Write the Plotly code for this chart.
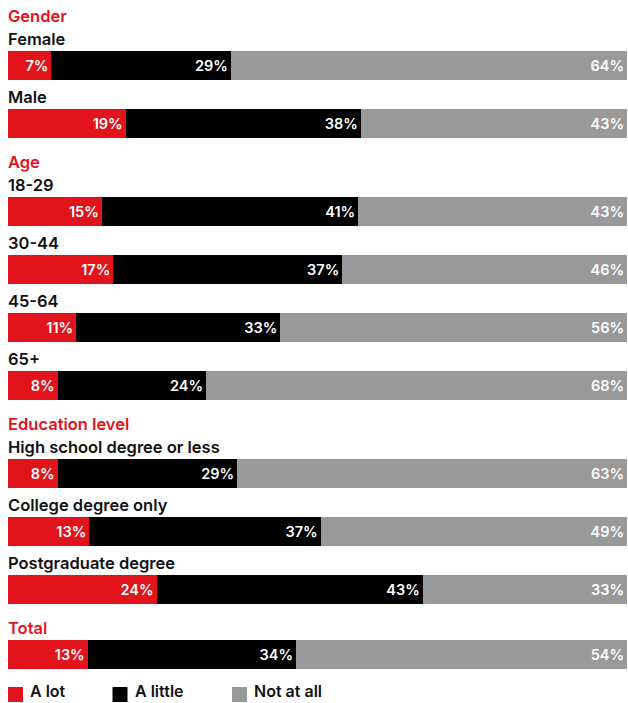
import plotly.graph_objects as go

# ---- data ----
groups = ["Gender", "Gender", "Age", "Age", "Age", "Age",
          "Education level", "Education level", "Education level", "Total"]
categories = ["Female", "Male", "18-29", "30-44", "45-64", "65+",
              "High school degree or less", "College degree only",
              "Postgraduate degree", "Total"]
a_lot = [7, 19, 15, 17, 11, 8, 8, 13, 24, 13]
a_little = [29, 38, 41, 37, 33, 24, 29, 37, 43, 34]
not_at_all = [64, 43, 43, 46, 56, 68, 63, 49, 33, 54]
series_names = ["A lot", "A little", "Not at all"]

# ---- style ----
RED = "#E3131B"
BLACK = "#000000"
GRAY = "#999999"
colors = [RED, BLACK, GRAY]
FONT = "Inter"
W, H = 628, 703
ML, MR = 8, 1
PLOT_W = W - ML - MR

# layout spacing (pixel units on the y axis)
START = 16
HEAD_TO_LABEL = 22.5
LABEL_TO_BAR = 26.5
BAR_TO_LABEL = 31.5
GROUP_GAP = 39
BAR_H = 29

# compute row positions
bar_y = []
heading_pos = []
label_pos = []
prev_group = None
cur = None
for g, c in zip(groups, categories):
    if g != prev_group:
        cur = START if cur is None else cur + GROUP_GAP
        heading_pos.append((g, cur))
        if c == g:
            cur += LABEL_TO_BAR
            bar_y.append(cur)
            prev_group = g
            continue
        cur += HEAD_TO_LABEL
    else:
        cur += BAR_TO_LABEL
    label_pos.append((c, cur))
    cur += LABEL_TO_BAR
    bar_y.append(cur)
    prev_group = g

fig = go.Figure()
for name, vals, col in zip(series_names, [a_lot, a_little, not_at_all], colors):
    fig.add_trace(go.Bar(
        x=vals, y=bar_y, orientation="h", name=name,
        marker=dict(color=col, line=dict(width=0)),
        width=BAR_H,
        text=[f"{v}%" for v in vals],
        textposition="inside", insidetextanchor="end",
        textfont=dict(family=FONT, size=14.5, color="white", weight=600),
        constraintext="none",
        showlegend=False, hoverinfo="skip",
    ))

annotations = []
for g, yv in heading_pos:
    annotations.append(dict(x=0, xref="paper", y=yv, yref="y", text=g,
                            showarrow=False, xanchor="left", yanchor="middle",
                            xshift=-2,
                            font=dict(family=FONT, size=16.5, color=RED, weight=600)))
for c, yv in label_pos:
    annotations.append(dict(x=0, xref="paper", y=yv, yref="y", text=c,
                            showarrow=False, xanchor="left", yanchor="middle",
                            xshift=-2,
                            font=dict(family=FONT, size=16.5, color="#111111", weight=600)))

# legend (drawn manually)
shapes = []
LEG_Y0, LEG_Y1 = 687, 702
leg_sq_x = [0, 104.5, 224]
for name, col, sx in zip(series_names, colors, leg_sq_x):
    shapes.append(dict(type="rect", xref="paper", xsizemode="pixel", xanchor=0,
                       x0=sx, x1=sx + 15, yref="y", y0=LEG_Y0, y1=LEG_Y1,
                       fillcolor=col, line=dict(width=0)))
    annotations.append(dict(x=(sx + 20) / PLOT_W, xref="paper", y=H,
                            yref="y", text=name, showarrow=False, xanchor="left",
                            yanchor="bottom",
                            font=dict(family=FONT, size=16, color="#111111", weight=600)))

fig.update_layout(
    width=W, height=H,
    margin=dict(l=ML, r=MR, t=0, b=0),
    barmode="stack", barnorm="percent",
    paper_bgcolor="white", plot_bgcolor="white",
    xaxis=dict(range=[0, 100], visible=False, fixedrange=True),
    yaxis=dict(range=[H, 0], visible=False, fixedrange=True),
    annotations=annotations, shapes=shapes,
    showlegend=False,
)

fig.write_html("out.html")
